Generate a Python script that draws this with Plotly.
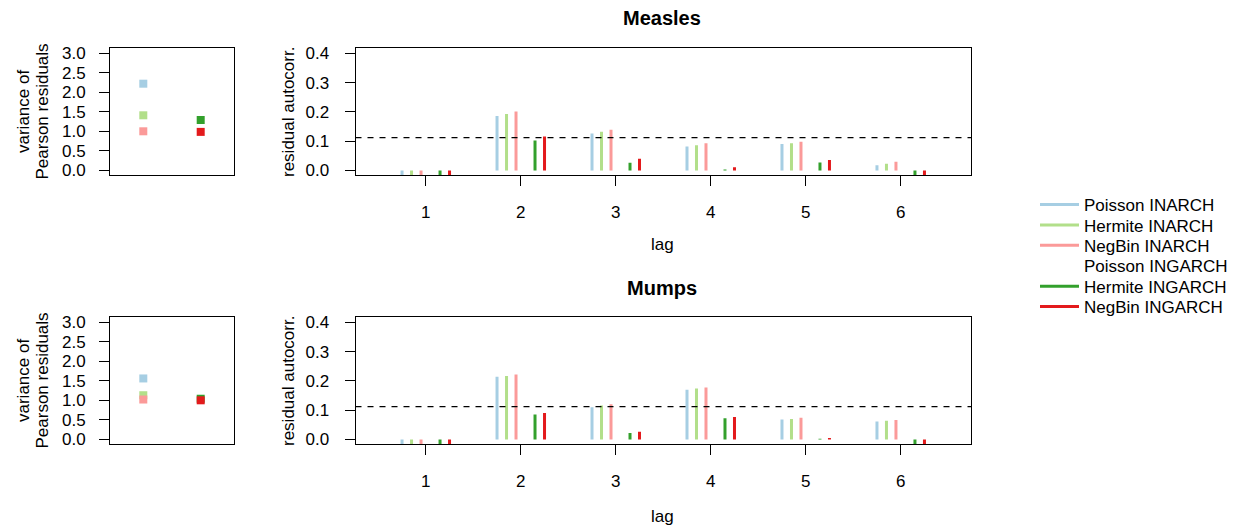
import plotly.graph_objects as go

# ---------------- data ----------------
lags = [1, 2, 3, 4, 5, 6]
series = ["Poisson INARCH", "Hermite INARCH", "NegBin INARCH",
          "Poisson INGARCH", "Hermite INGARCH", "NegBin INGARCH"]
colors = ["#A6CEE3", "#B2DF8A", "#FB9A99", "rgba(0,0,0,0)", "#33A02C", "#E31A1C"]
offsets = [-0.25, -0.15, -0.05, 0.05, 0.15, 0.25]

# residual autocorrelations (Poisson INGARCH not shown)
measles_acf = {
    "Poisson INARCH":  [-0.025, 0.186, 0.126, 0.082, 0.090, 0.018],
    "Hermite INARCH":  [-0.025, 0.193, 0.132, 0.086, 0.093, 0.023],
    "NegBin INARCH":   [-0.025, 0.201, 0.139, 0.093, 0.098, 0.030],
    "Hermite INGARCH": [-0.020, 0.102, 0.026, 0.003, 0.027, -0.020],
    "NegBin INGARCH":  [-0.020, 0.116, 0.040, 0.011, 0.036, -0.020],
}
mumps_acf = {
    "Poisson INARCH":  [-0.025, 0.214, 0.110, 0.170, 0.068, 0.061],
    "Hermite INARCH":  [-0.025, 0.217, 0.116, 0.174, 0.070, 0.064],
    "NegBin INARCH":   [-0.025, 0.222, 0.120, 0.177, 0.074, 0.066],
    "Hermite INGARCH": [-0.020, 0.085, 0.022, 0.072, 0.002, -0.020],
    "NegBin INGARCH":  [-0.020, 0.090, 0.026, 0.077, 0.005, -0.020],
}
measles_bound = 0.112
mumps_bound = 0.112

# variance of Pearson residuals (x = 1 INARCH, x = 2 INGARCH)
measles_var = {"Poisson INARCH": 2.22, "Hermite INARCH": 1.41, "NegBin INARCH": 1.00,
               "Hermite INGARCH": 1.29, "NegBin INGARCH": 0.985}
mumps_var = {"Poisson INARCH": 1.56, "Hermite INARCH": 1.13, "NegBin INARCH": 1.02,
             "Hermite INGARCH": 1.04, "NegBin INGARCH": 1.00}
var_x = {"Poisson INARCH": 1, "Hermite INARCH": 1, "NegBin INARCH": 1,
         "Hermite INGARCH": 2, "NegBin INGARCH": 2}

acf_ticks = [0.0, 0.1, 0.2, 0.3, 0.4]
var_ticks = [0.0, 0.5, 1.0, 1.5, 2.0, 2.5, 3.0]
titles = ["Measles", "Mumps"]

# ---------------- layout helpers ----------------
OFF = 8  # page body margin
W, H = 1239 - OFF, 529 - OFF
FONT = "Liberation Sans, Arial, Helvetica, sans-serif"
FS = 17

def px_x(v):
    return (v - OFF) / W

def px_y(v):
    return 1 - (v - OFF) / H

fig = go.Figure()

panels = [
    dict(acf=measles_acf, var=measles_var, bound=measles_bound, top=48, bot=175,
         vx="x", vy="y", ax="x2", ay="y2", legend=True),
    dict(acf=mumps_acf, var=mumps_var, bound=mumps_bound, top=317, bot=444,
         vx="x3", vy="y3", ax="x4", ay="y4", legend=False),
]

legend_y = [205, 225.4, 245.8, 266.2, 286.6, 307]

for p in panels:
    # variance squares
    for s, c in zip(series, colors):
        if s not in p["var"]:
            continue
        fig.add_trace(go.Scatter(
            x=[var_x[s]], y=[p["var"][s]], mode="markers",
            marker=dict(symbol="square", size=8, color=c, line=dict(width=0)),
            xaxis=p["vx"], yaxis=p["vy"], showlegend=False, hoverinfo="skip"))
    # acf bars as vertical line segments
    for i, (s, c, o) in enumerate(zip(series, colors, offsets)):
        li = i + 1
        lname = "legend" if li == 1 else f"legend{li}"
        if s in p["acf"]:
            xs, ys = [], []
            for lag, v in zip(lags, p["acf"][s]):
                xs += [lag + o, lag + o, None]
                ys += [0, v, None]
        else:
            xs, ys = [None], [None]
        fig.add_trace(go.Scatter(
            x=xs, y=ys, mode="lines", name=s,
            line=dict(color=c, width=3),
            xaxis=p["ax"], yaxis=p["ay"],
            showlegend=p["legend"], legend=lname, hoverinfo="skip"))
    # threshold line
    fig.add_shape(type="line", xref=f"{p['ax']} domain", yref=p["ay"],
                  x0=0, x1=1, y0=p["bound"], y1=p["bound"],
                  line=dict(color="black", width=1.3, dash="6px,6px"))

axis_common = dict(showline=True, mirror=True, linecolor="black", linewidth=1,
                   showgrid=False, zeroline=False, ticks="outside", ticklen=10,
                   tickcolor="black", tickwidth=1, automargin=False,
                   tickfont=dict(family=FONT, size=FS, color="black"))

var_xd = [px_x(110), px_x(234)]
acf_xd = [px_x(355.5), px_x(971)]

layout = dict(
    width=W, height=H, margin=dict(l=0, r=0, t=0, b=0, autoexpand=False),
    paper_bgcolor="white", plot_bgcolor="white",
    font=dict(family=FONT, size=FS, color="black"),
)
for idx, p in enumerate(panels):
    yd = [px_y(p["bot"]), px_y(p["top"])]
    n_v = 1 + 2 * idx
    n_a = 2 + 2 * idx
    sv = "" if n_v == 1 else str(n_v)
    sa = str(n_a)
    layout["xaxis" + sv] = dict(axis_common, domain=var_xd, range=[0.42, 2.58],
                                 showticklabels=False, ticks="", anchor="y" + sv)
    layout["yaxis" + sv] = dict(axis_common, domain=yd, range=[-0.12, 3.135],
                                 tickvals=var_ticks, tickformat=".1f",
                                 ticklabelstandoff=10, anchor="x" + sv)
    layout["xaxis" + sa] = dict(axis_common, domain=acf_xd, range=[0.26, 6.74],
                                 tickvals=lags, ticklabelstandoff=12, anchor="y" + sa)
    layout["yaxis" + sa] = dict(axis_common, domain=yd, range=[-0.0155, 0.418],
                                 tickvals=acf_ticks, tickformat=".1f",
                                 ticklabelstandoff=12, anchor="x" + sa)

# legends: one per entry to control spacing
for i, yv in enumerate(legend_y):
    li = i + 1
    lname = "legend" if li == 1 else f"legend{li}"
    layout[lname] = dict(x=px_x(1035), xanchor="left", y=px_y(yv), yanchor="middle",
                         bgcolor="rgba(0,0,0,0)", borderwidth=0, itemwidth=39,
                         font=dict(family=FONT, size=FS, color="black"))

fig.update_layout(**layout)

anns = []
ccx = px_x(662)
for t, ty, lagy, mid in [(titles[0], 18, 244, 112), (titles[1], 288, 516, 381)]:
    anns.append(dict(text=f"<b>{t}</b>", x=ccx, y=px_y(ty), xref="paper", yref="paper",
                     showarrow=False, xanchor="center", yanchor="middle",
                     font=dict(family=FONT, size=20, color="black")))
    anns.append(dict(text="lag", x=ccx, y=px_y(lagy), xref="paper", yref="paper",
                     showarrow=False, xanchor="center", yanchor="middle",
                     font=dict(family=FONT, size=FS, color="black")))
    anns.append(dict(text="residual autocorr.", x=px_x(288), y=px_y(mid), xref="paper",
                     yref="paper", showarrow=False, xanchor="center", yanchor="middle",
                     textangle=-90, font=dict(family=FONT, size=FS, color="black")))
    anns.append(dict(text="variance of", x=px_x(23), y=px_y(mid), xref="paper",
                     yref="paper", showarrow=False, xanchor="center", yanchor="middle",
                     textangle=-90, font=dict(family=FONT, size=FS, color="black")))
    anns.append(dict(text="Pearson residuals", x=px_x(41.5), y=px_y(mid), xref="paper",
                     yref="paper", showarrow=False, xanchor="center", yanchor="middle",
                     textangle=-90, font=dict(family=FONT, size=FS, color="black")))
fig.update_layout(annotations=anns)

fig.write_html("out.html")
